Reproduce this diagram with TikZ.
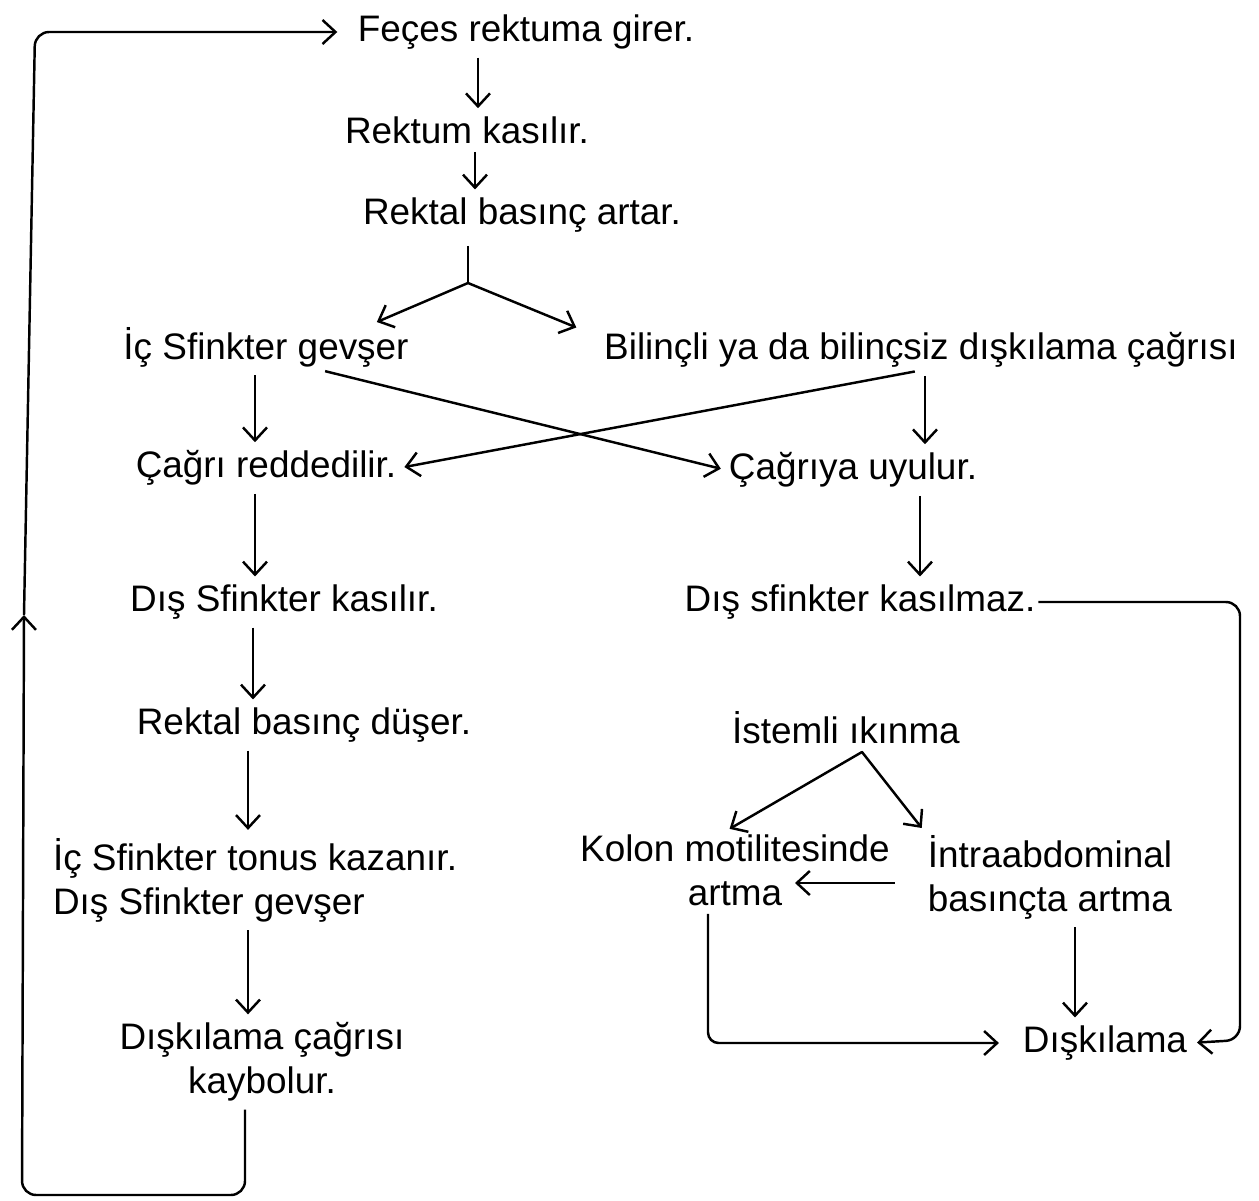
\documentclass[tikz,border=0pt]{standalone}
\usepackage{fontspec}
\setmainfont{Liberation Sans}
\usetikzlibrary{arrows.meta}

\begin{document}
\begin{tikzpicture}[x=0.02cm,y=-0.02cm,line width=1.4pt,
  >={Straight Barb[length=2.6mm,width=4.8mm]},
  lbl/.style={font=\fontsize{21}{25}\selectfont,inner sep=1pt,align=center},
  flow/.style={->,shorten <=3pt,shorten >=3pt}]
\useasboundingbox (0,0) rectangle (1259,1201);
% left column
\node[lbl] (feces) at (526,32) {Feçes rektuma girer.};
\node[lbl] (rektum) at (467,130) {Rektum kasılır.};
\node[lbl] (basinc) at (522,215) {Rektal basınç artar.};
\node[lbl] (icsf) at (266,347) {İç Sfinkter gevşer};
\node[lbl] (red) at (266,468) {Çağrı reddedilir.};
\node[lbl] (dk) at (284,602) {Dış Sfinkter kasılır.};
\node[lbl] (dus) at (304,725) {Rektal basınç düşer.};
\node[lbl,align=left] (tonus) at (255,880) {İç Sfinkter tonus kazanır.\\Dış Sfinkter gevşer};
\node[lbl] (kayb) at (262,1062) {Dışkılama çağrısı\\kaybolur.};
% right column
\node[lbl] (cagri) at (921,350) {Bilinçli ya da bilinçsiz dışkılama çağrısı};
\node[lbl] (uy) at (853,470) {Çağrıya uyulur.};
\node[lbl] (dkm) at (860,602) {Dış sfinkter kasılmaz.};
\node[lbl] (ikin) at (846,728) {İstemli ıkınma};
\node[lbl] (kolon) at (735,870) {Kolon motilitesinde\\artma};
\node[lbl,align=left] (intra) at (1050,877) {İntraabdominal\\basınçta artma};
\node[lbl] (disk) at (1105,1043) {Dışkılama};
% forks
\coordinate (fork1) at (468,283);
\coordinate (fork2) at (862,752);
% connectors
\draw[flow] (feces.south -| 478,0) -- (rektum.north -| 478,0);
\draw[flow] (rektum.south -| 475,0) -- (basinc.north -| 475,0);
\draw[shorten <=6pt] (basinc.south -| fork1) -- (fork1);
\draw[flow,shorten <=0pt] (fork1) -- (icsf.north -| 372,0);
\draw[flow,shorten <=0pt] (fork1) -- ([xshift=-0.4cm]cagri.north west);
\draw[flow] (icsf.south -| 255,0) -- (red.north -| 255,0);
\draw[flow] (icsf.south -| 320,0) -- (uy.west);
\draw[flow] (cagri.south -| 920,0) -- (red.east);
\draw[flow] (cagri.south -| 925,0) -- (uy.north -| 925,0);
\draw[flow] (red.south -| 255,0) -- (dk.north -| 255,0);
\draw[flow] (uy.south -| 920,0) -- (dkm.north -| 920,0);
\draw[flow] (dk.south -| 253,0) -- (dus.north -| 253,0);
\draw[flow] (dus.south -| 248,0) -- (tonus.north -| 248,0);
\draw[flow] (tonus.south -| 248,0) -- (kayb.north -| 248,0);
\draw[->,rounded corners=8pt,shorten >=4pt] (dkm.east) -- (dkm.east -| 1240,0) -- (1240,1040) -- (disk.east);
\draw[shorten <=2pt] (ikin.south -| fork2) -- (fork2);
\draw[flow,shorten <=0pt] (fork2) -- (kolon.north -| 725,0);
\draw[flow,shorten <=0pt] (fork2) -- (intra.north west);
\draw[->] ([shift={(-30,6)}]intra.west) -- ([shift={(60,13)}]kolon.center);
\draw[->,rounded corners=6pt,shorten <=3pt,shorten >=12pt] (kolon.south -| 708,0) |- (disk.west);
\draw[flow] (intra.south -| 1075,0) -- (disk.north -| 1075,0);
% feedback loop
\coordinate (loopmid) at (24,615);
\draw[->,rounded corners=8pt,shorten <=3pt] (kayb.south -| 245,0) -- (245,1195) -- (22,1195) -- (loopmid);
\draw[->,rounded corners=8pt,shorten >=10pt] (loopmid) -- (35,32) -- (feces.west);
\end{tikzpicture}
\end{document}
